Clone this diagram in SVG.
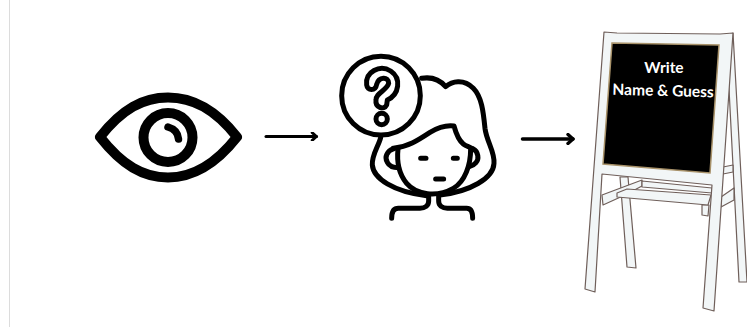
<svg xmlns="http://www.w3.org/2000/svg" width="747" height="327" viewBox="0 0 747 327">
<style>
.k{fill:none;stroke:#000;stroke-linecap:round;stroke-linejoin:round}
.w{fill:#f2f6f7;stroke:#6f5f5a;stroke-width:1.200;stroke-linejoin:round}
.t{font-family:"Lato","Liberation Sans",sans-serif;font-size:15.500px;font-weight:700;fill:#fff;text-anchor:middle}
</style>
<defs>
<marker id="ah" viewBox="0 0 10 10" refX="8" refY="5" markerWidth="3.200" markerHeight="3.200" orient="auto"><path d="M3.500 1L8 5L3.500 9" fill="none" stroke="#000" stroke-width="3" stroke-linecap="round" stroke-linejoin="round"/></marker>
</defs>
<rect width="747" height="327" fill="#fff"/>
<line x1="9.500" y1="0" x2="9.500" y2="327" stroke="#dcdcdc" stroke-width="1"/>
<g id="eye">
<path class="k" stroke-width="10" d="M100 137C122 109 143 97.500 168 97.500C193 97.500 215 109 237 137C215 165 193 177.500 168 177.500C143 177.500 122 165 100 137Z"/>
<circle class="k" stroke-width="10" cx="168" cy="137.500" r="24.500"/>
<path class="k" stroke-width="7.500" d="M168 127C175 129 178 133 178.500 139"/>
</g>
<g id="person" transform="translate(330 45) scale(.3333)">
<g class="k" stroke-width="15">
<circle cx="153" cy="152" r="118"/>
<path d="M110 120C105 80 150 58 182 78C215 100 208 148 172 165L170 180C162 197 135 187 138 165C136 145 172 135 176 115C176 93 146 95 140 118C136 140 112 137 110 120Z"/>
<circle cx="155" cy="222" r="17"/>
<path d="M275 100C305 95 330 105 347 125C365 110 400 100 430 130C455 155 460 200 465 250C470 290 495 320 492 355C490 400 420 440 330 450"/>
<path d="M152 278C145 305 125 330 127 360C130 400 190 440 290 452"/>
<path d="M190 310C235 305 265 285 300 262C325 247 350 240 372 243C378 265 385 285 400 297C410 305 420 305 428 312"/>
<path d="M204 312C200 350 205 385 230 415C260 450 320 458 370 430C405 410 422 360 422 312"/>
<path d="M190 312C172 318 162 335 172 352C178 364 192 368 206 368"/>
<path d="M430 312C445 320 448 342 438 353C432 360 425 363 418 365"/>
<path d="M296 452V468C296 482 285 490 270 490H205C192 490 185 500 185 520"/>
<path d="M326 452V468C326 482 337 490 352 490H410C422 490 428 500 428 520"/>
<path d="M272 340H288M370 340H382M317 402H341"/>
</g>
</g>
<g id="easel">
<path class="w" d="M620 177L628 177L636 268L627 267Z"/>
<path class="w" d="M727 50L733 33L747 282L739 282Z"/>
<path class="w" d="M723 167L733 165L733 172L723 174Z"/>
<path class="w" d="M721 197L734 188L734 200L721 207Z"/>
<path class="w" d="M602 195L642 180L642 186L625 195L603 205Z"/>
<path class="w" d="M642 181L712 188L712 193L642 187Z"/>
<path class="w" d="M702 205L709 205L708 216L702 215Z"/>
<path class="w" d="M617 193L627 189L711 195L708 205L617 197Z"/>
<path class="w" d="M604 32L617 33L720 34L733 33L714 311L703 308L712 185L602 174L595 292L585 289Z"/>
<path d="M612 43L719 45L710 173L603 164Z" fill="#000" stroke="#a8926a" stroke-width="1.500"/>
<text class="t" x="664" y="73">Write</text>
<text class="t" x="663" y="96" transform="rotate(1.500 663 96)">Name &amp; Guess</text>
</g>
<g id="connectors" fill="none" stroke="#000" stroke-linecap="round">
<line x1="266" y1="136.500" x2="316.500" y2="136.500" stroke-width="3" marker-end="url(#ah)"/>
<line x1="522.500" y1="139" x2="573" y2="139" stroke-width="3.500" marker-end="url(#ah)"/>
</g>
</svg>
